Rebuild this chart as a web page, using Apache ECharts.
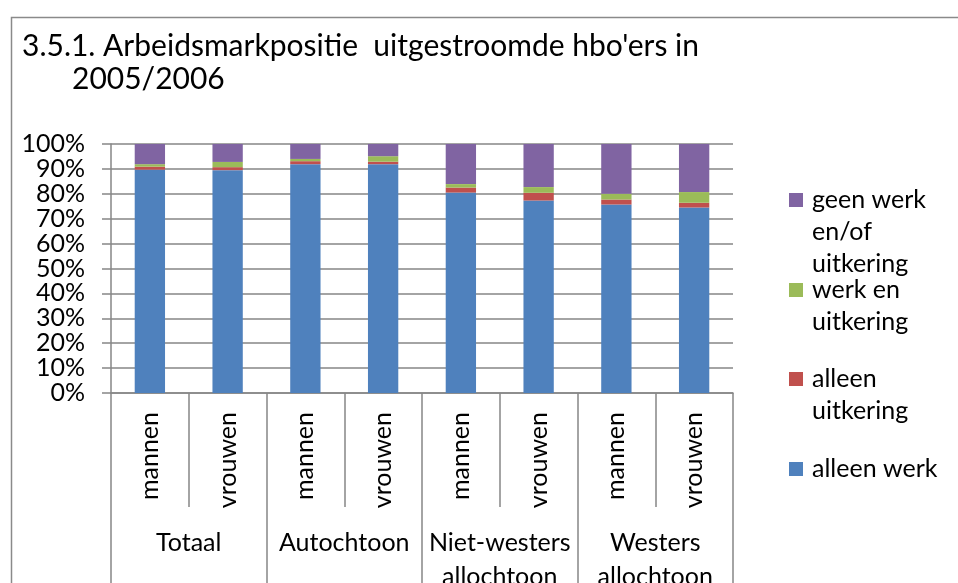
<!DOCTYPE html>
<html>
<head>
<meta charset="utf-8">
<script src="https://cdn.jsdelivr.net/npm/echarts@6/dist/echarts.min.js"></script>
<style>html,body{margin:0;padding:0;background:#fff}#c{width:958px;height:583px}</style>
</head>
<body>
<div id="c"></div>
<script>
const subCategories = ['mannen','vrouwen','mannen','vrouwen','mannen','vrouwen','mannen','vrouwen'];
const groups = ['Totaal','Autochtoon','Niet-westers\nallochtoon','Westers\nallochtoon'];
const yTicks = [0,10,20,30,40,50,60,70,80,90,100];
const seriesNames = ['alleen werk','alleen uitkering','werk en uitkering','geen werk en/of uitkering'];
const alleenWerk      = [89.7, 89.5, 91.9, 91.9, 80.5, 77.3, 75.7, 74.5];
const alleenUitkering = [1.2, 1.2, 1.2, 1.0, 2.0, 3.1, 2.0, 1.9];
const werkEnUitkering = [1.0, 2.1, 0.9, 2.2, 1.4, 2.3, 2.3, 4.3];
const geenWerk        = [8.1, 7.2, 6.0, 4.9, 16.1, 17.3, 20.0, 19.3];
const legendLines = {
  'geen werk en/of uitkering': ['geen werk', 'en/of', 'uitkering'],
  'werk en uitkering': ['werk en', 'uitkering'],
  'alleen uitkering': ['alleen', 'uitkering'],
  'alleen werk': ['alleen werk']
};

const FONT = 'Lato';
const colors = ['#4F81BD','#C0504D','#9BBB59','#8064A2'];
const values = [alleenWerk, alleenUitkering, werkEnUitkering, geenWerk];
const gridColor = '#868686';

function legendFor(name, top) {
  return {
    orient: 'vertical', left: 789, top: top, padding: 0,
    itemWidth: 14, itemHeight: 14, icon: 'rect',
    data: [name],
    formatter: (nm) => {
      const lines = legendLines[nm];
      // blank lines in front keep the first line level with the icon
      return new Array(lines.length - 1).fill(' ').concat(lines).join('\n');
    },
    selectedMode: false,
    textStyle: {
      fontFamily: FONT, fontSize: 25, color: '#000', lineHeight: 32,
      padding: [0, 0, 0, 4]
    }
  };
}

const chart = echarts.init(document.getElementById('c'), null, {renderer: 'canvas'});
chart.setOption({
  animation: false,
  color: colors,
  title: [
    {text: "3.5.1. Arbeidsmarkpositie  uitgestroomde hbo'ers in", left: 22, top: 29, padding: 0,
     textStyle: {fontFamily: FONT, fontSize: 30, fontWeight: 'normal', color: '#000', lineHeight: 34}},
    {text: '2005/2006', left: 72, top: 62, padding: 0,
     textStyle: {fontFamily: FONT, fontSize: 30, fontWeight: 'normal', color: '#000', lineHeight: 34}}
  ],
  graphic: [{
    type: 'rect', left: 9, top: 15, silent: true,
    shape: {width: 1000, height: 620},
    style: {fill: 'none', stroke: '#8a8a8a', lineWidth: 1.5}
  }],
  legend: [
    legendFor('geen werk en/of uitkering', 120),
    legendFor('werk en uitkering', 242),
    legendFor('alleen uitkering', 331),
    legendFor('alleen werk', 453)
  ],
  grid: {left: 111, right: 225, top: 144, bottom: 190, containLabel: false, outerBoundsMode: 'none'},
  xAxis: [
    {
      type: 'category', data: subCategories, position: 'bottom',
      axisLine: {show: true, lineStyle: {color: gridColor, width: 1.5}},
      axisTick: {show: true, interval: 0, length: 114, lineStyle: {color: gridColor, width: 1.5}},
      axisLabel: {interval: 0, rotate: 90, margin: 19, fontFamily: FONT, fontSize: 25, color: '#000'}
    },
    {
      type: 'category', data: groups, position: 'bottom',
      axisLine: {show: false},
      axisTick: {show: true, interval: 0, length: 200, lineStyle: {color: gridColor, width: 1.5}},
      axisLabel: {interval: 0, margin: 133, fontFamily: FONT, fontSize: 25, color: '#000', lineHeight: 34}
    }
  ],
  yAxis: {
    type: 'value', min: 0, max: 100, interval: 10,
    axisLine: {show: true, lineStyle: {color: gridColor, width: 1.5}},
    axisTick: {show: true, length: 9, lineStyle: {color: gridColor, width: 1.5}},
    splitLine: {show: true, lineStyle: {color: gridColor, width: 1.5}},
    axisLabel: {margin: 26, fontFamily: FONT, fontSize: 25, color: '#000',
      formatter: (v) => yTicks.indexOf(v) >= 0 ? v + '%' : ''}
  },
  series: seriesNames.map((name, i) => ({
    name: name, type: 'bar', stack: 'total', xAxisIndex: 0,
    barWidth: '39%', data: values[i],
    itemStyle: {color: colors[i]}
  }))
});
</script>
</body>
</html>
